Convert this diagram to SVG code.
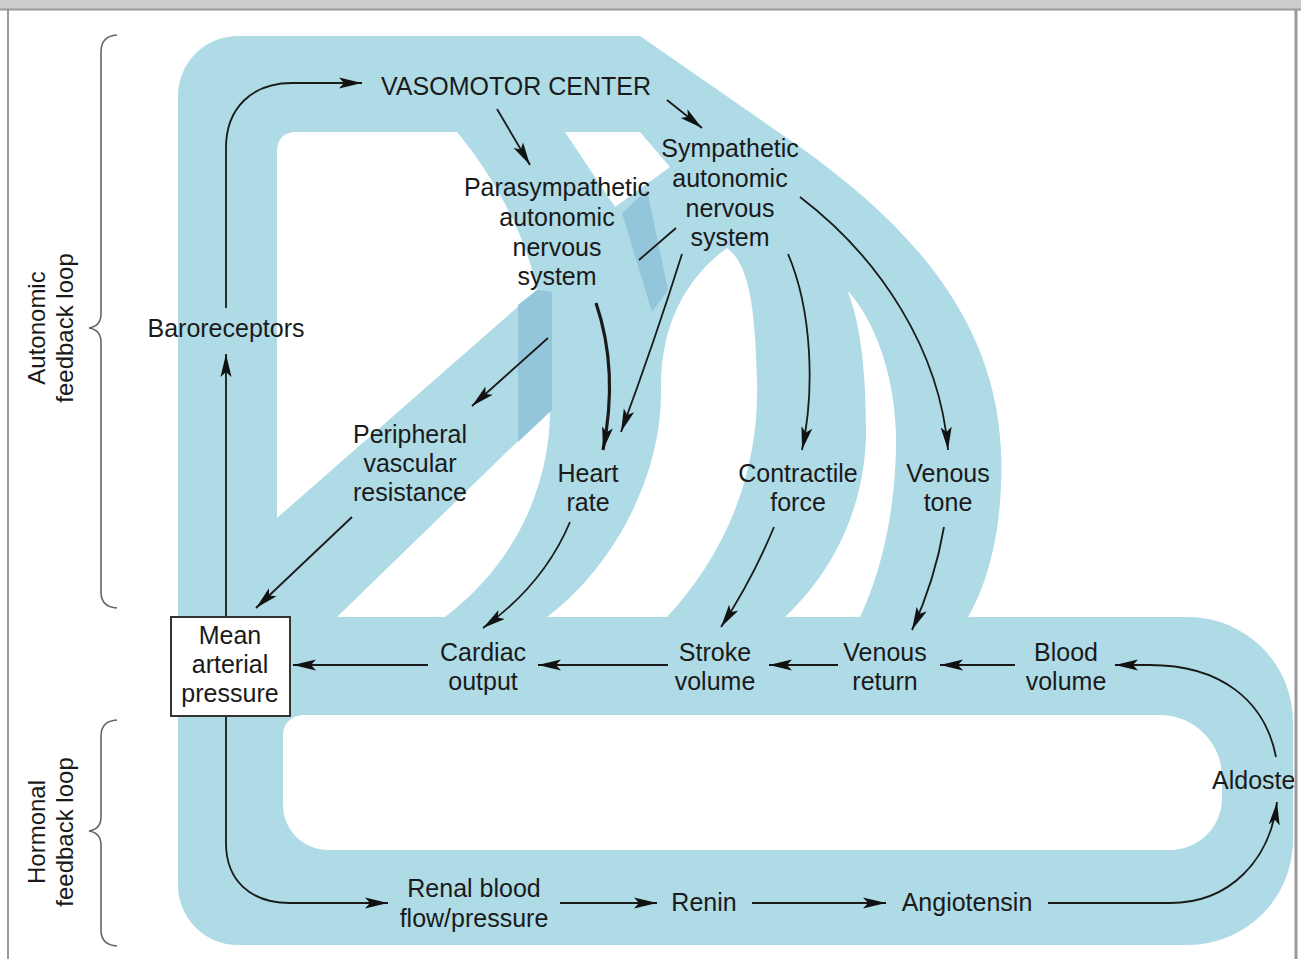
<svg xmlns="http://www.w3.org/2000/svg" width="1301" height="959" viewBox="0 0 1301 959">
<style>
text{font-family:"Liberation Sans",Arial,Helvetica,sans-serif;font-size:25px;fill:#1a1a1a;text-anchor:middle}
.side{font-size:24px}
.con{fill:none;stroke:#1a1a1a;stroke-width:1.8;marker-end:url(#ah)}
.brace{fill:none;stroke:#666;stroke-width:1.6}
</style>
<defs>
<marker id="ah" markerUnits="userSpaceOnUse" markerWidth="26" markerHeight="14" refX="23" refY="7" orient="auto"><path d="M0,1.5 L23,7 L0,12.5 L5,7 Z" fill="#111"/></marker>
<clipPath id="frame"><rect x="9" y="10" width="1285" height="949"/></clipPath>
</defs>
<rect x="0" y="0" width="1301" height="959" fill="#fff"/>
<rect x="0" y="0" width="1301" height="9" fill="#cccccc"/>
<line x1="0" y1="9.5" x2="1301" y2="9.5" stroke="#999" stroke-width="2"/>
<line x1="8" y1="9" x2="8" y2="959" stroke="#999" stroke-width="2"/>
<line x1="1296" y1="9" x2="1296" y2="959" stroke="#999" stroke-width="3"/>
<g clip-path="url(#frame)">
<g id="bands">
<path fill="#aedbe6" fill-rule="evenodd" d="M 178 96 A 60 60 0 0 1 238 36 L 640 36 L 800 147 C 905 222 995 315 1001 450 C 1004 520 990 580 968 617 L 1188 617 A 105 105 0 0 1 1293 722 L 1293 840 A 105 105 0 0 1 1188 945 L 238 945 A 60 60 0 0 1 178 885 Z
M 297 132 L 457 132 C 490 172 525 230 537 290 L 277 518 L 277 152 Q 277 132 297 132 Z
M 565 132 L 640 132 L 670 167 L 615 207 Z
M 337 617 L 550 410 C 550 480 520 560 445 617 Z
M 727 248 C 690 275 660 320 661 390 C 662 480 610 570 547 617 L 667 617 C 720 560 760 480 757 380 C 755 310 750 265 727 248 Z
M 847 290 C 875 320 898 380 896 450 C 894 530 875 585 860 617 L 785 617 C 830 575 866 510 866 430 C 866 370 860 320 847 290 Z
M 303 715 L 1160 715 A 62 62 0 0 1 1222 777 L 1222 798 A 52 52 0 0 1 1170 850 L 328 850 A 45 45 0 0 1 283 805 L 283 735 A 20 20 0 0 1 303 715 Z"/>
<path fill="#93c6db" d="M 518 305 L 537 290 L 552 292 L 552 410 L 518 442 Z"/>
<path fill="#93c6db" d="M 622 213 L 647 190 L 668 290 L 652 312 Z"/>
</g>
<g id="braces">
<path class="brace" d="M 117 35 Q 101 36 101 52 L 101 314 Q 101 326 89 328 Q 101 330 101 342 L 101 592 Q 101 607 117 608"/>
<path class="brace" d="M 117 720 Q 101 721 101 736 L 101 817 Q 101 829 89 831 Q 101 833 101 845 L 101 930 Q 101 945 117 946"/>
<text class="side" transform="translate(45,328) rotate(-90)">Autonomic</text>
<text class="side" transform="translate(73,328) rotate(-90)">feedback loop</text>
<text class="side" transform="translate(45,832) rotate(-90)">Hormonal</text>
<text class="side" transform="translate(73,832) rotate(-90)">feedback loop</text>
</g>
<g id="connectors">
<path class="con" d="M 226 308 L 226 148 C 226 108 252 83 292 83 L 362 83"/>
<path class="con" d="M 226 616 L 226 354"/>
<path class="con" d="M 226 717 L 226 843 C 226 880 250 903 290 903 L 388 903"/>
<path class="con" d="M 560 903 L 657 903"/>
<path class="con" d="M 752 903 L 886 903"/>
<path class="con" d="M 1048 903 L 1170 903 C 1230 903 1270 860 1277 802"/>
<path class="con" d="M 1276 757 C 1265 700 1220 665 1150 665 L 1115 665"/>
<path class="con" d="M 1015 665 L 940 665"/>
<path class="con" d="M 838 665 L 769 665"/>
<path class="con" d="M 668 665 L 538 665"/>
<path class="con" d="M 428 665 L 293 665"/>
<path class="con" d="M 497 109 L 530 165"/>
<path class="con" d="M 667 100 L 702 128"/>
<path class="con" style="stroke-width:3.2" d="M 596 303 C 612 350 613 400 603 450"/>
<path class="con" d="M 682 254 Q 655 340 621 432"/>
<path fill="none" stroke="#1a1a1a" stroke-width="1.8" d="M 676 228 L 639 260"/>
<path class="con" d="M 548 338 L 472 406"/>
<path class="con" d="M 352 517 L 256 608"/>
<path class="con" d="M 570 522 C 552 565 522 600 483 628"/>
<path class="con" d="M 788 254 C 812 310 815 390 802 450"/>
<path class="con" d="M 774 527 Q 752 580 721 627"/>
<path class="con" d="M 800 197 C 880 258 940 350 948 450"/>
<path class="con" d="M 944 527 Q 935 580 912 630"/>
</g>
<g id="n-vmc"><text x="516" y="95">VASOMOTOR CENTER</text></g>
<g id="n-symp"><text x="730" y="157">Sympathetic</text><text x="730" y="187">autonomic</text><text x="730" y="217">nervous</text><text x="730" y="246">system</text></g>
<g id="n-para"><text x="557" y="196">Parasympathetic</text><text x="557" y="226">autonomic</text><text x="557" y="256">nervous</text><text x="557" y="285">system</text></g>
<g id="n-baro"><text x="226" y="337">Baroreceptors</text></g>
<g id="n-pvr"><text x="410" y="443">Peripheral</text><text x="410" y="472">vascular</text><text x="410" y="501">resistance</text></g>
<g id="n-hr"><text x="588" y="482">Heart</text><text x="588" y="511">rate</text></g>
<g id="n-cf"><text x="798" y="482">Contractile</text><text x="798" y="511">force</text></g>
<g id="n-vt"><text x="948" y="482">Venous</text><text x="948" y="511">tone</text></g>
<g id="n-map"><rect x="171" y="617" width="119" height="99" fill="#fff" stroke="#333" stroke-width="2"/><text x="230" y="644">Mean</text><text x="230" y="673">arterial</text><text x="230" y="702">pressure</text></g>
<g id="n-co"><text x="483" y="661">Cardiac</text><text x="483" y="690">output</text></g>
<g id="n-sv"><text x="715" y="661">Stroke</text><text x="715" y="690">volume</text></g>
<g id="n-vr"><text x="885" y="661">Venous</text><text x="885" y="690">return</text></g>
<g id="n-bv"><text x="1066" y="661">Blood</text><text x="1066" y="690">volume</text></g>
<g id="n-aldo"><text x="1212" y="789" style="text-anchor:start">Aldosterone</text></g>
<g id="n-renal"><text x="474" y="897">Renal blood</text><text x="474" y="927">flow/pressure</text></g>
<g id="n-renin"><text x="704" y="911">Renin</text></g>
<g id="n-angio"><text x="967" y="911">Angiotensin</text></g>
</g>
</svg>
